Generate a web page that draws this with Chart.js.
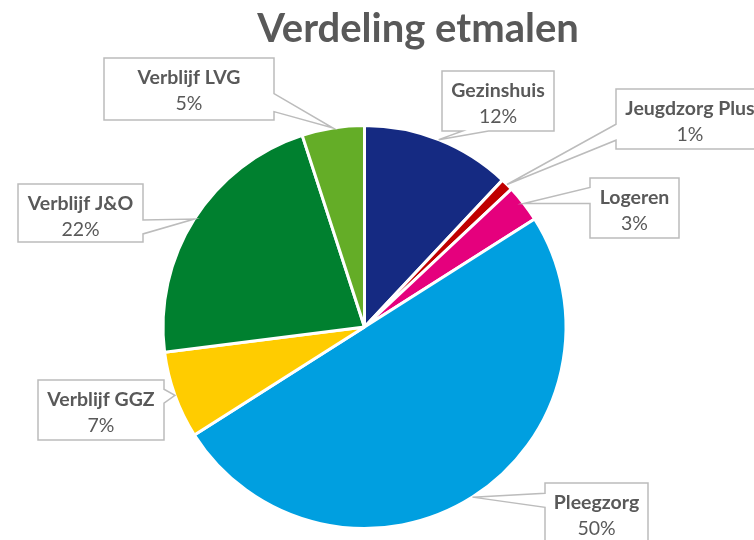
<!DOCTYPE html>
<html>
<head>
<meta charset="utf-8">
<script src="https://cdn.jsdelivr.net/npm/chart.js@4.4.1/dist/chart.umd.min.js"></script>
<style>
  html, body { margin: 0; padding: 0; background: #ffffff; }
  #wrap { width: 754px; height: 540px; position: relative; overflow: hidden; }
</style>
</head>
<body>
<div id="wrap"><canvas id="c" width="754" height="540"></canvas></div>
<script>
const titleText = 'Verdeling etmalen';
const categories = ['Gezinshuis', 'Jeugdzorg Plus', 'Logeren', 'Pleegzorg', 'Verblijf GGZ', 'Verblijf J&O', 'Verblijf LVG'];
const values = [12, 1, 3, 50, 7, 22, 5];
const sliceColors = ['#152A82', '#C00000', '#E5007D', '#009FE0', '#FFCC00', '#00802F', '#64AD27'];

// Callout box geometry (layout only): rect, side of wedge, wedge base centre fraction, half width
const callouts = [
  { x: 442, y: 71,  w: 112, h: 60, side: 'bottom', frac: 0.30, half: 13 },
  { x: 616, y: 89,  w: 148, h: 60, side: 'left',   frac: 0.72, half: 8 },
  { x: 590, y: 178, w: 89,  h: 60, side: 'left',   frac: 0.29, half: 8 },
  { x: 545, y: 483, w: 103, h: 62, side: 'left',   frac: 0.28, half: 7 },
  { x: 38,  y: 380, w: 126, h: 60, side: 'right',  frac: 0.27, half: 7 },
  { x: 18,  y: 184, w: 125, h: 58, side: 'right',  frac: 0.74, half: 7 },
  { x: 104, y: 58,  w: 170, h: 62, side: 'right',  frac: 0.72, half: 9 }
];

const FONT = 'Lato, "Open Sans", "DejaVu Sans", sans-serif';
const TEXT_COLOR = '#595959';

const calloutPlugin = {
  id: 'callouts',
  afterDatasetsDraw(chart) {
    const ctx = chart.ctx;
    const meta = chart.getDatasetMeta(0);
    const total = values.reduce((a, b) => a + b, 0);
    meta.data.forEach((arc, i) => {
      const c = callouts[i];
      if (!c) return;
      const p = arc.getProps(['x', 'y', 'startAngle', 'endAngle', 'outerRadius'], true);
      const a = (p.startAngle + p.endAngle) / 2;
      const tx = p.x + Math.cos(a) * p.outerRadius;
      const ty = p.y + Math.sin(a) * p.outerRadius;
      const x0 = c.x, y0 = c.y, x1 = c.x + c.w, y1 = c.y + c.h;
      ctx.save();
      ctx.beginPath();
      ctx.moveTo(x0, y0);
      if (c.side === 'top') {
        const m = x0 + c.w * c.frac;
        ctx.lineTo(m - c.half, y0); ctx.lineTo(tx, ty); ctx.lineTo(m + c.half, y0);
      }
      ctx.lineTo(x1, y0);
      if (c.side === 'right') {
        const m = y0 + c.h * c.frac;
        ctx.lineTo(x1, m - c.half); ctx.lineTo(tx, ty); ctx.lineTo(x1, m + c.half);
      }
      ctx.lineTo(x1, y1);
      if (c.side === 'bottom') {
        const m = x0 + c.w * c.frac;
        ctx.lineTo(m + c.half, y1); ctx.lineTo(tx, ty); ctx.lineTo(m - c.half, y1);
      }
      ctx.lineTo(x0, y1);
      if (c.side === 'left') {
        const m = y0 + c.h * c.frac;
        ctx.lineTo(x0, m + c.half); ctx.lineTo(tx, ty); ctx.lineTo(x0, m - c.half);
      }
      ctx.closePath();
      ctx.fillStyle = '#ffffff';
      ctx.fill();
      ctx.lineWidth = 1.5;
      ctx.strokeStyle = '#BCBCBC';
      ctx.stroke();

      const cx = x0 + c.w / 2;
      const cy = y0 + 30;
      ctx.fillStyle = TEXT_COLOR;
      ctx.textAlign = 'center';
      ctx.textBaseline = 'alphabetic';
      ctx.font = 'bold 19.5px ' + FONT;
      ctx.fillText(chart.data.labels[i], cx, cy - 4);
      ctx.font = '19.5px ' + FONT;
      const pct = Math.round(values[i] / total * 100) + '%';
      ctx.fillText(pct, cx, cy + 22);
      ctx.restore();
    });
    // title
    ctx.save();
    ctx.fillStyle = TEXT_COLOR;
    ctx.textAlign = 'center';
    ctx.textBaseline = 'alphabetic';
    ctx.font = 'bold 40px ' + FONT;
    ctx.fillText(titleText, 418, 42);
    ctx.restore();
  }
};

new Chart(document.getElementById('c'), {
  type: 'pie',
  data: {
    labels: categories,
    datasets: [{
      data: values,
      backgroundColor: sliceColors,
      borderColor: '#ffffff',
      borderWidth: 3
    }]
  },
  options: {
    responsive: false,
    animation: false,
    layout: { padding: { left: 161, right: 186, top: 124, bottom: 10 } },
    plugins: {
      legend: { display: false },
      title: { display: false },
      tooltip: { enabled: false }
    }
  },
  plugins: [calloutPlugin]
});
</script>
</body>
</html>
